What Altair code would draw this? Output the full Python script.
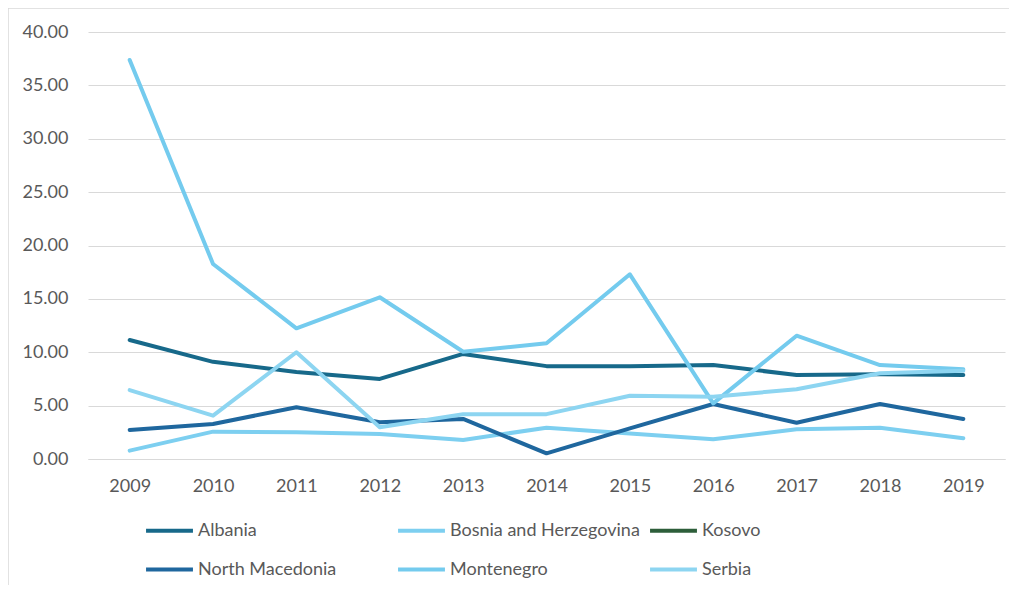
import altair as alt
import pandas as pd

years = ["2009", "2010", "2011", "2012", "2013", "2014", "2015", "2016", "2017", "2018", "2019"]
countries = ["Albania", "Bosnia and Herzegovina", "Kosovo", "North Macedonia", "Montenegro", "Serbia"]
colors = ["#17698A", "#7DCFF0", "#2D5E3A", "#1F679E", "#74CBEE", "#8DD5F1"]

albania = [11.15, 9.10, 8.15, 7.50, 9.84, 8.70, 8.70, 8.80, 7.87, 7.93, 7.87]
bosnia = [0.78, 2.56, 2.50, 2.34, 1.78, 2.93, 2.40, 1.84, 2.78, 2.93, 1.94]
kosovo = []
north_macedonia = [2.72, 3.28, 4.84, 3.44, 3.75, 0.53, 2.87, 5.15, 3.40, 5.15, 3.75]
montenegro = [37.38, 18.27, 12.24, 15.15, 10.05, 10.84, 17.30, 5.21, 11.55, 8.80, 8.40]
serbia = [6.46, 4.06, 10.00, 2.97, 4.20, 4.20, 5.93, 5.84, 6.53, 8.03, 8.27]

series = {
    "Albania": albania,
    "Bosnia and Herzegovina": bosnia,
    "Kosovo": kosovo,
    "North Macedonia": north_macedonia,
    "Montenegro": montenegro,
    "Serbia": serbia,
}

rows = []
for name, vals in series.items():
    for y, v in zip(years, vals):
        rows.append({"Year": y, "Country": name, "Value": v})
df = pd.DataFrame(rows)

FONT = "Lato"
GREY = "#595959"
FS = 18

lines = alt.Chart(df).mark_line(strokeWidth=4, strokeCap="round", strokeJoin="round").encode(
    x=alt.X("Year:O", sort=years, scale=alt.Scale(type="point", padding=0.5),
            axis=alt.Axis(title=None, labelAngle=0, labelFontSize=FS, labelColor=GREY, labelFont=FONT,
                          labelPadding=18, ticks=False, domainColor="#d9d9d9", grid=False)),
    y=alt.Y("Value:Q", scale=alt.Scale(domain=[0, 40], nice=False),
            axis=alt.Axis(title=None, values=[0, 5, 10, 15, 20, 25, 30, 35, 40], format=".2f",
                          labelFontSize=FS, labelColor=GREY, labelFont=FONT, labelPadding=20,
                          ticks=False, domain=False, gridColor="#d9d9d9", gridWidth=1)),
    color=alt.Color("Country:N", scale=alt.Scale(domain=countries, range=colors),
                    sort=countries,
                    legend=alt.Legend(title=None, orient="none", legendX=56, legendY=473,
                                      direction="horizontal",
                                      columns=3, gridAlign="all", columnPadding=2, rowPadding=4,
                                      symbolType="stroke", symbolSize=2200, symbolStrokeWidth=4,
                                      labelFontSize=FS, labelColor=GREY, labelFont=FONT, labelOffset=3,
                                      labelLimit=400)),
    detail="Country:N",
)

frame = alt.Chart(pd.DataFrame({"a": [0]})).mark_rect(fill="transparent", stroke="#d9d9d9", strokeWidth=1.5).encode(
    x=alt.value(-80), x2=alt.value(1100), y=alt.value(-24), y2=alt.value(700)
)

chart = alt.layer(frame, lines).properties(
    width=917, height=427,
    autosize=alt.AutoSizeParams(type="none"),
    padding={"left": 80, "top": 24, "right": 4, "bottom": 126},
    background="white",
).configure_view(strokeWidth=0, stroke="transparent")

chart.save("out.html", embed_options={"renderer": "svg", "actions": False})
